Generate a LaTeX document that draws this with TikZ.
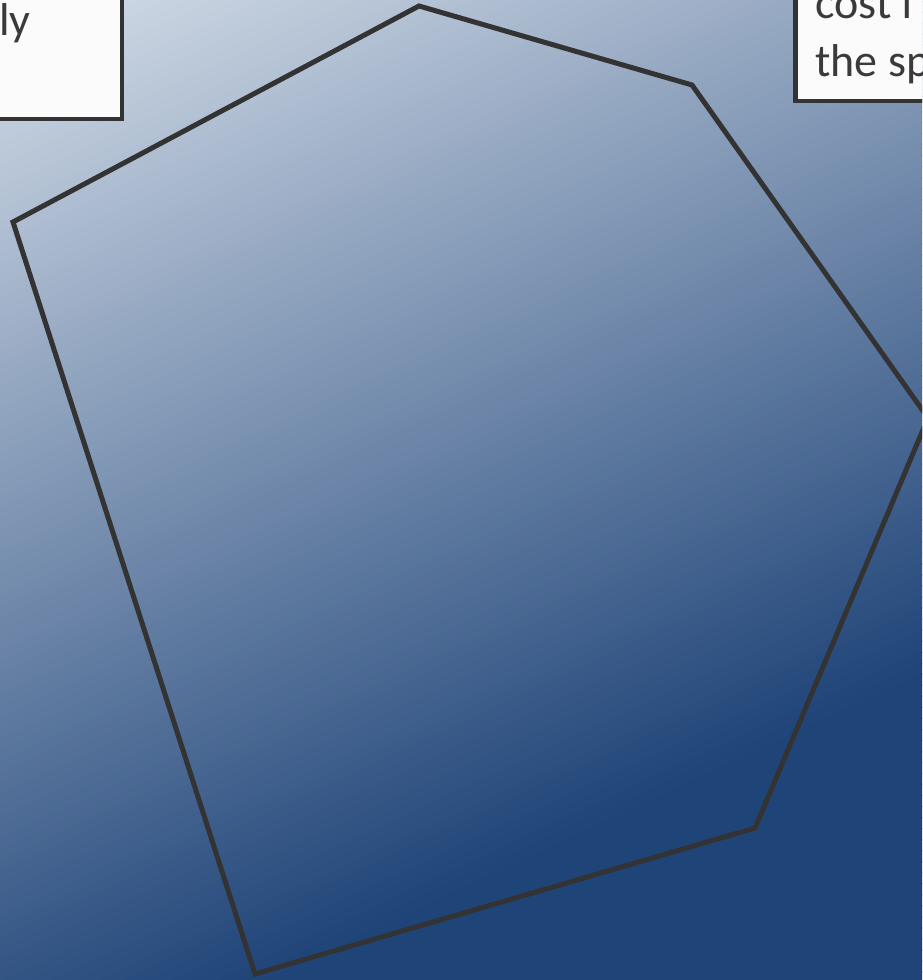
\documentclass[tikz,border=0pt]{standalone}
\usepackage{fontspec}
\setmainfont{Carlito}
\definecolor{lt}{HTML}{D5DEE9}
\definecolor{dk}{HTML}{1F4478}
\definecolor{edge}{HTML}{333333}
\definecolor{txt}{HTML}{3A3A3A}
\definecolor{boxfill}{HTML}{FBFBFB}
\begin{document}
\begin{tikzpicture}[x=1pt,y=1pt,
  polyline/.style={draw=edge, line width=5pt, line join=miter},
  textbox/.style={draw=edge, fill=boxfill, line width=4.5pt},
  boxtext/.style={inner sep=0pt, text=txt, font=\fontsize{46}{58}\selectfont}]
\useasboundingbox (0,0) rectangle (922,980);
\clip (0,0) rectangle (922,980);
% background gradient
\begin{scope}[shift={(0,980)}, rotate=25]
\foreach \i in {0,...,139}{
  \pgfmathsetmacro{\p}{min(100,(\i*10+5)/10)}
  \fill[dk!\p!lt] (-2500,-\i*10) rectangle (2500,-\i*10-11.5);
}
\end{scope}
% hexagon
\coordinate (A) at (419,974);
\coordinate (B) at (692,895);
\coordinate (C) at (928,562);
\coordinate (D) at (755,152);
\coordinate (E) at (255,6);
\coordinate (F) at (13,758);
\draw[polyline] (A) -- (B) -- (C) -- (D) -- (E) -- (F) -- cycle;
% left text box
\draw[textbox] (-20,1000) rectangle (122,861);
\node[boxtext, anchor=base east] (lefttext) at (31,944) {ly};
% right text box
\draw[textbox] (795.5,1000) rectangle (1000,879);
\node[boxtext, anchor=base west] (rt1) at (815,961) {cost f};
\node[boxtext, anchor=base west] (rt2) at (815,903) {the sp};
\end{tikzpicture}
\end{document}
